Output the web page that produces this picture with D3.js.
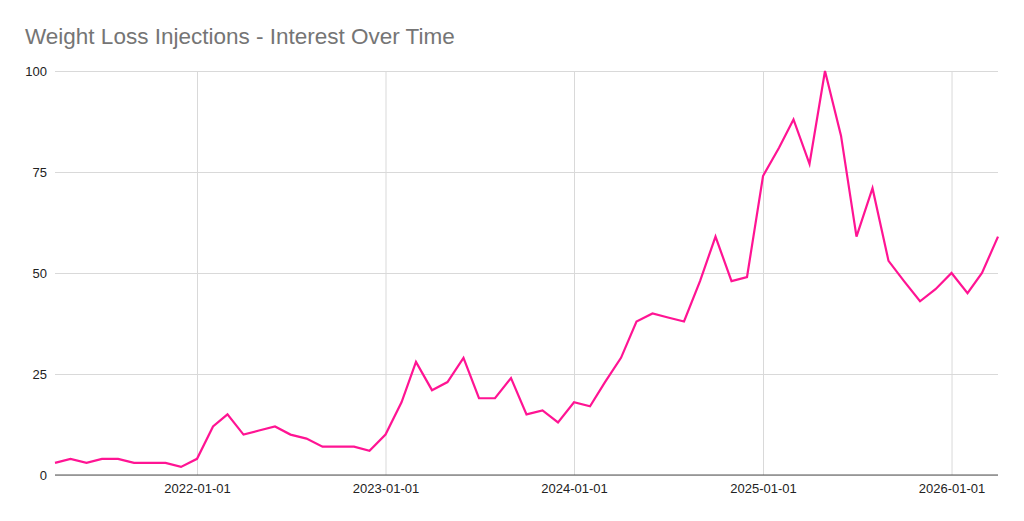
<!DOCTYPE html>
<html>
<head>
<meta charset="utf-8">
<script src="https://cdn.jsdelivr.net/npm/d3@7"></script>
<style>
  html, body { margin: 0; padding: 0; background: #fff; }
  svg { display: block; font-family: "Liberation Sans", Arial, sans-serif; }
</style>
</head>
<body>
<svg id="chart" width="1024" height="521"></svg>
<script>
const title = "Weight Loss Injections - Interest Over Time";
const months = [
  "2021-04","2021-05","2021-06","2021-07","2021-08","2021-09","2021-10","2021-11","2021-12",
  "2022-01","2022-02","2022-03","2022-04","2022-05","2022-06","2022-07","2022-08","2022-09","2022-10","2022-11","2022-12",
  "2023-01","2023-02","2023-03","2023-04","2023-05","2023-06","2023-07","2023-08","2023-09","2023-10","2023-11","2023-12",
  "2024-01","2024-02","2024-03","2024-04","2024-05","2024-06","2024-07","2024-08","2024-09","2024-10","2024-11","2024-12",
  "2025-01","2025-02","2025-03","2025-04","2025-05","2025-06","2025-07","2025-08","2025-09","2025-10","2025-11","2025-12",
  "2026-01","2026-02","2026-03","2026-04"
];
const interest = [
  3,4,3,4,4,3,3,3,2,
  4,12,15,10,11,12,10,9,7,7,7,6,
  10,18,28,21,23,29,19,19,24,15,16,13,
  18,17,23,29,38,40,39,38,48,59,48,49,
  74,81,88,77,100,84,59,71,53,48,43,46,
  50,45,50,59
];
const yTicks = [0,25,50,75,100];
const xTicks = ["2022-01-01","2023-01-01","2024-01-01","2025-01-01","2026-01-01"];

const parseM = d3.timeParse("%Y-%m");
const parseD = d3.timeParse("%Y-%m-%d");
const data = months.map((m,i) => ({date: parseM(m), value: interest[i]}));

const svg = d3.select("#chart");
const margin = {left: 55, right: 26, top: 71, bottom: 46};
const W = 1024, H = 521;

const x = d3.scaleTime()
  .domain(d3.extent(data, d => d.date))
  .range([margin.left, W - margin.right]);
const y = d3.scaleLinear()
  .domain([0, 100])
  .range([H - margin.bottom, margin.top]);

svg.append("text")
  .attr("x", 25).attr("y", 44)
  .attr("font-size", 22.5)
  .attr("fill", "#757575")
  .text(title);

// horizontal gridlines
const gy = svg.append("g")
  .attr("transform", `translate(${margin.left},0)`)
  .call(d3.axisLeft(y).tickValues(yTicks).tickSize(-(W - margin.left - margin.right)).tickPadding(8));
gy.select(".domain").remove();
gy.selectAll(".tick line").attr("stroke", "#d9d9d9").attr("stroke-width", 1);
gy.selectAll(".tick text").attr("font-size", 13).attr("fill", "#222").attr("font-family", "Liberation Sans, Arial, sans-serif");

// vertical gridlines + x labels
const gx = svg.append("g")
  .attr("transform", `translate(0,${H - margin.bottom})`)
  .call(d3.axisBottom(x).tickValues(xTicks.map(parseD)).tickFormat(d3.timeFormat("%Y-%m-%d"))
    .tickSize(-(H - margin.bottom - margin.top)).tickPadding(9));
gx.select(".domain").remove();
gx.selectAll(".tick line").attr("stroke", "#d9d9d9").attr("stroke-width", 1);
gx.selectAll(".tick text").attr("font-size", 13).attr("fill", "#222").attr("font-family", "Liberation Sans, Arial, sans-serif");

// baseline
svg.append("line")
  .attr("x1", margin.left).attr("x2", W - margin.right)
  .attr("y1", y(0)).attr("y2", y(0))
  .attr("stroke", "#555").attr("stroke-width", 1.2);

const line = d3.line().x(d => x(d.date)).y(d => y(d.value));
svg.append("path")
  .datum(data)
  .attr("fill", "none")
  .attr("stroke", "#ff1493")
  .attr("stroke-width", 2.2)
  .attr("stroke-linejoin", "miter")
  .attr("d", line);
</script>
</body>
</html>
